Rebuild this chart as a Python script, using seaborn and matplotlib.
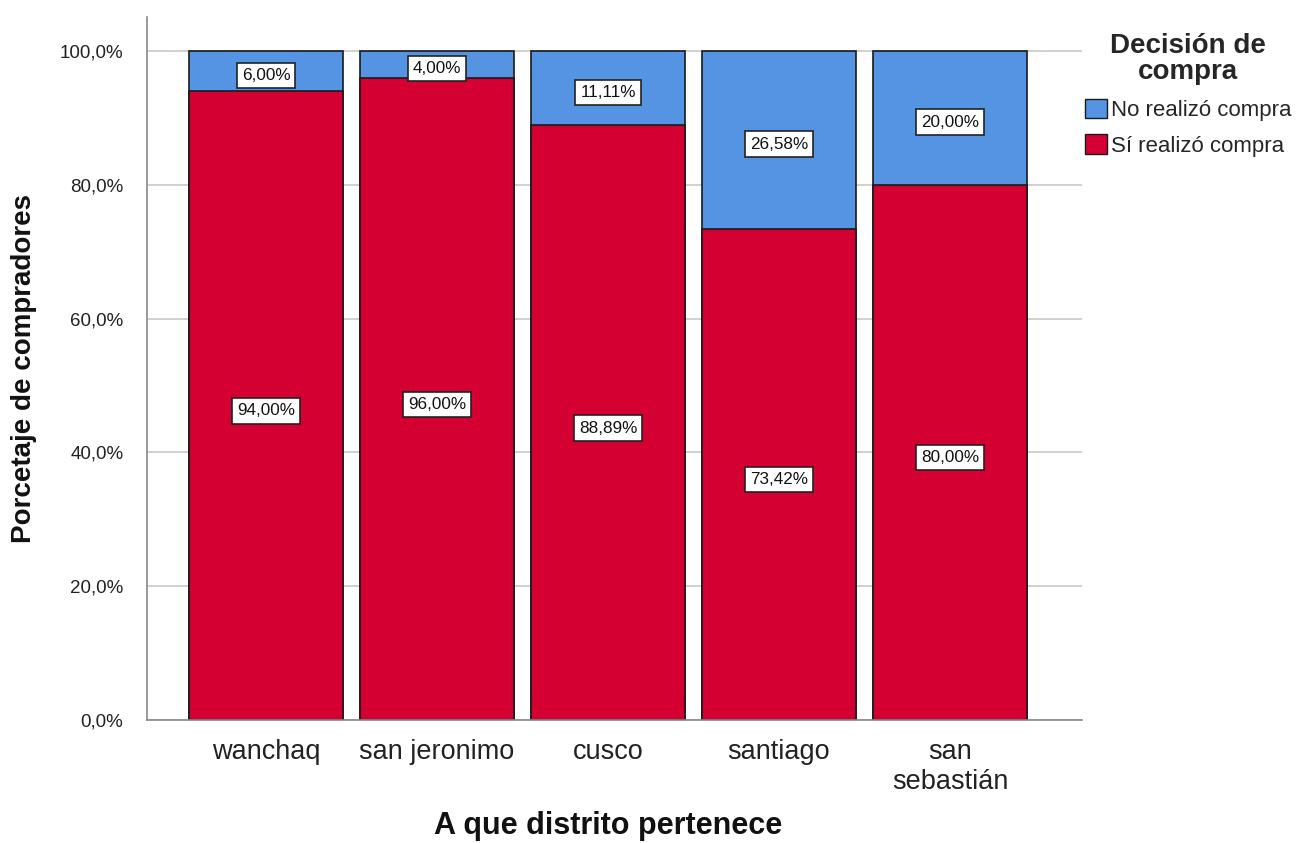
import matplotlib
matplotlib.use("Agg")
import matplotlib.pyplot as plt
from matplotlib.patches import Patch
from matplotlib.ticker import FuncFormatter
import seaborn as sns
import pandas as pd

distritos = ["wanchaq", "san jeronimo", "cusco", "santiago", "san\nsebastián"]
si_compra = [94.00, 96.00, 88.89, 73.42, 80.00]
no_compra = [6.00, 4.00, 11.11, 26.58, 20.00]
series = ["No realizó compra", "Sí realizó compra"]
colores = {"No realizó compra": "#5594E3", "Sí realizó compra": "#D50032"}

df = pd.DataFrame({"distrito": distritos, "si": si_compra, "no": no_compra})
df["total"] = df["si"] + df["no"]

sns.set_theme(style="white")
plt.rcParams["font.family"] = ["Liberation Sans", "DejaVu Sans"]

fig = plt.figure(figsize=(12.99, 8.43), dpi=100)
ax = fig.add_axes([147 / 1299, 123 / 843, (1082 - 147) / 1299, (720 - 17) / 843])

ax.set_axisbelow(True)
ax.yaxis.grid(True, color="#c8c8c8", linewidth=1.2)

# stacked bars: full height in blue, then the purchasing share in red
sns.barplot(data=df, x="distrito", y="total", color=colores[series[0]], width=0.895,
            edgecolor="#1a1a1a", linewidth=1.2, saturation=1, ax=ax)
sns.barplot(data=df, x="distrito", y="si", color=colores[series[1]], width=0.895,
            edgecolor="#1a1a1a", linewidth=1.2, saturation=1, ax=ax)

box = dict(boxstyle="square,pad=0.3", facecolor="white", edgecolor="#222222", linewidth=1.2)
for i, (s, n) in enumerate(zip(si_compra, no_compra)):
    ax.text(i, s / 2 - 0.8, f"{s:.2f}%".replace(".", ","), ha="center", va="center",
            fontsize=12.3, color="#111111", bbox=box)
    ax.text(i, s + n / 2 - 0.6, f"{n:.2f}%".replace(".", ","), ha="center", va="center",
            fontsize=12.3, color="#111111", bbox=box)

ax.set_xlim(-0.696, 4.772)
ax.set_ylim(0, 105.1)
ax.set_yticks([0, 20, 40, 60, 80, 100])
ax.yaxis.set_major_formatter(FuncFormatter(lambda v, p: f"{v:.1f}%".replace(".", ",")))
ax.tick_params(axis="y", labelsize=13.5, labelcolor="#222222", length=0, pad=17)
ax.tick_params(axis="x", labelsize=19.5, labelcolor="#222222", length=0, pad=14)

for side in ["top", "right"]:
    ax.spines[side].set_visible(False)
for side in ["left", "bottom"]:
    ax.spines[side].set_color("#888888")
    ax.spines[side].set_linewidth(1.2)

ax.set_xlabel("A que distrito pertenece", fontsize=22, fontweight="bold", color="#111111")
ax.set_ylabel("Porcetaje de compradores", fontsize=20, fontweight="bold", color="#111111")
ax.xaxis.set_label_coords(0.493, -0.151)
ax.xaxis.label.set_va("center")
ax.yaxis.set_label_coords(-0.132, 0.5)
ax.yaxis.label.set_va("center")

handles = [Patch(facecolor=colores[s], edgecolor="#1a1a1a", linewidth=1.0) for s in series]
leg = fig.legend(handles, series, title="Decisión de\ncompra", loc="upper left",
                 bbox_to_anchor=(1083 / 1299, 1 - 31 / 843), frameon=False,
                 fontsize=16, title_fontproperties={"weight": "bold", "size": 20},
                 handlelength=1.0, handleheight=1.0, handletextpad=0.15,
                 labelspacing=0.6, borderaxespad=0, borderpad=0.1)
leg._legend_box.align = "center"
leg.get_title().set_multialignment("center")
leg.get_title().set_linespacing(1.0)

fig.savefig("out.png", dpi=100)
